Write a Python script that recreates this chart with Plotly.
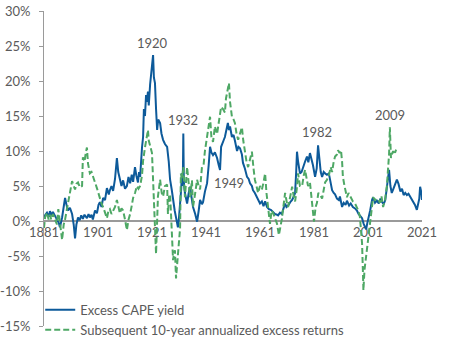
import plotly.graph_objects as go

# ---------------- data ----------------
cape_years = [
    1881.0, 1881.5, 1882.1, 1882.8, 1883.2, 1883.8, 1884.3, 1885.0, 1885.8, 1886.5,
    1886.9, 1887.7, 1888.3, 1888.8, 1889.4, 1889.9, 1890.6, 1891.4, 1892.0, 1892.5,
    1893.0, 1893.6, 1894.2, 1894.8, 1895.4, 1896.0, 1896.9, 1897.5, 1898.0, 1898.6,
    1899.1, 1899.9, 1900.6, 1901.2, 1901.7, 1902.3, 1902.9, 1903.6, 1904.3, 1905.0,
    1905.4, 1906.0, 1906.6, 1907.3, 1908.0, 1908.5, 1909.1, 1909.7, 1910.3, 1911.0,
    1911.7, 1912.3, 1912.9, 1913.5, 1914.0, 1914.7, 1915.2, 1915.8, 1916.2, 1916.6,
    1917.3, 1917.7, 1918.0, 1918.4, 1918.8, 1919.1, 1919.5, 1919.8, 1920.3, 1920.7,
    1921.0, 1921.4, 1921.7, 1922.1, 1922.5, 1922.9, 1923.3, 1924.0, 1924.5, 1925.1,
    1925.8, 1926.6, 1927.2, 1927.7, 1928.3, 1928.8, 1929.4, 1930.0, 1930.3, 1930.6,
    1931.0, 1931.4, 1931.8, 1932.1, 1932.4, 1932.6, 1932.8, 1933.2, 1934.0, 1934.6,
    1935.1, 1935.6, 1936.2, 1937.0, 1937.7, 1938.3, 1938.8, 1939.5, 1939.9, 1940.6,
    1941.4, 1942.0, 1942.5, 1943.0, 1943.6, 1944.3, 1945.1, 1945.7, 1946.2, 1946.6,
    1946.9, 1947.5, 1948.0, 1948.5, 1949.1, 1949.5, 1949.9, 1950.6, 1951.2, 1951.7,
    1952.5, 1953.0, 1953.6, 1954.3, 1954.7, 1955.4, 1956.2, 1956.8, 1957.3, 1958.0,
    1958.4, 1959.1, 1959.9, 1960.5, 1961.0, 1961.7, 1962.3, 1962.9, 1963.6, 1964.3,
    1965.0, 1965.8, 1966.5, 1967.3, 1967.7, 1968.4, 1969.1, 1969.7, 1970.3, 1970.8,
    1971.4, 1972.2, 1972.9, 1973.5, 1974.0, 1974.4, 1974.7, 1975.1, 1975.8, 1976.4,
    1976.9, 1977.7, 1978.4, 1978.9, 1979.5, 1980.0, 1980.6, 1981.4, 1982.0, 1982.5,
    1983.0, 1983.5, 1984.0, 1984.6, 1985.1, 1985.8, 1986.5, 1987.2, 1987.7, 1988.3,
    1988.8, 1989.5, 1990.2, 1990.6, 1991.4, 1992.0, 1992.7, 1993.2, 1994.0, 1994.6,
    1995.4, 1996.2, 1996.9, 1997.5, 1998.3, 1998.8, 1999.4, 2000.0, 2000.3, 2000.8,
    2001.3, 2001.8, 2002.5, 2002.9, 2003.6, 2004.3, 2005.0, 2005.6, 2006.2, 2006.8,
    2007.4, 2008.0, 2008.5, 2008.8, 2009.3, 2009.8, 2010.4, 2011.0, 2011.7, 2012.3,
    2013.0, 2013.6, 2014.2, 2014.8, 2015.4, 2016.0, 2016.6, 2017.2, 2017.7, 2018.4,
    2019.1, 2019.6, 2020.0, 2020.3, 2020.8, 2021.0,
]
cape_values = [
    0.4, 0.9, 1.2, 0.6, 1.4, 0.8, 1.3, 0.7, 0.2, -0.3,
    -0.9, 0.5, 2.0, 3.3, 2.2, 1.5, 1.9, 1.0, -0.5, -2.5,
    -0.5, 0.5, 0.1, 0.8, 0.3, 0.9, 0.4, 1.0, 0.5, 0.9,
    0.2, 1.5, 1.1, 2.3, 2.7, 2.0, 3.3, 3.0, 4.7, 3.8,
    4.4, 5.0, 4.3, 6.0, 9.0, 7.0, 6.0, 5.0, 5.8, 4.6,
    5.0, 6.3, 5.4, 6.6, 5.6, 7.7, 6.5, 5.5, 7.0, 6.3,
    10.5, 12.0, 16.0, 15.0, 18.0, 17.0, 18.5, 16.5, 19.5, 21.5,
    22.5, 23.7, 20.5, 19.7, 16.0, 13.0, 14.5, 14.0, 12.5, 11.6,
    11.0, 10.6, 8.5, 5.9, 4.5, 3.0, 1.5, 0.3, -0.3, -0.9,
    0.5, 2.0, 4.5, 6.8, 5.0, 12.5, 5.4, 4.0, 2.5, 4.0,
    4.9, 3.5, 2.0, 1.0, -0.1, 1.5, 3.0, 2.4, 2.7, 4.2,
    5.4, 8.0, 10.6, 9.8, 9.4, 9.8, 9.0, 8.0, 7.3, 10.6,
    11.0, 11.5, 12.0, 13.0, 14.0, 13.0, 13.5, 12.0, 12.3, 11.5,
    10.0, 10.6, 10.4, 9.5, 8.3, 7.5, 6.3, 6.0, 5.4, 5.0,
    4.4, 4.0, 3.4, 3.0, 2.5, 2.8, 2.1, 2.8, 2.0, 1.7,
    1.6, 1.3, 1.0, 0.9, 0.8, 1.2, 1.0, 1.8, 2.5, 2.0,
    2.2, 2.7, 3.0, 3.5, 4.0, 7.0, 9.9, 8.5, 6.8, 7.0,
    7.7, 8.5, 9.2, 8.4, 9.7, 9.0, 8.0, 6.3, 7.5, 10.8,
    9.0, 7.0, 6.3, 7.0, 6.8, 6.6, 6.8, 5.0, 4.4, 4.0,
    3.8, 3.2, 3.0, 3.5, 2.0, 2.6, 2.3, 2.9, 2.2, 2.5,
    2.0, 1.8, 1.5, 1.0, 0.6, 0.4, -0.4, -1.0, -1.2, -0.2,
    0.6, 1.5, 3.0, 3.4, 2.6, 2.9, 2.5, 3.2, 2.7, 2.4,
    3.0, 4.9, 6.0, 7.3, 5.0, 4.0, 4.6, 5.2, 5.9, 5.3,
    4.2, 4.6, 3.7, 4.0, 3.7, 3.9, 3.5, 3.3, 2.9, 2.3,
    1.6, 2.6, 3.2, 4.9, 4.0, 3.0,
]

ret_years = [
    1881.0, 1881.4, 1882.1, 1882.7, 1883.2, 1883.7, 1884.3, 1885.0, 1885.8, 1886.3,
    1886.9, 1887.4, 1887.7, 1888.3, 1888.8, 1889.4, 1889.9, 1890.5, 1891.4, 1892.0,
    1892.5, 1893.0, 1893.6, 1894.3, 1895.1, 1895.4, 1896.0, 1896.5, 1896.9, 1897.3,
    1898.0, 1898.6, 1899.1, 1899.9, 1900.6, 1901.2, 1901.7, 1902.3, 1902.9, 1903.6,
    1904.3, 1904.9, 1905.4, 1906.0, 1906.6, 1907.3, 1908.0, 1908.6, 1909.1, 1909.7,
    1910.3, 1911.0, 1911.7, 1912.3, 1912.9, 1913.5, 1914.0, 1914.7, 1915.4, 1916.0,
    1916.6, 1917.3, 1917.7, 1918.4, 1919.1, 1919.5, 1919.8, 1920.3, 1921.0, 1921.4,
    1921.8, 1922.2, 1922.5, 1922.9, 1923.2, 1924.0, 1924.6, 1925.1, 1925.8, 1926.6,
    1926.9, 1927.3, 1927.7, 1928.1, 1928.4, 1928.8, 1929.2, 1929.5, 1929.9, 1930.3,
    1930.6, 1931.0, 1931.4, 1931.7, 1932.1, 1932.6, 1933.2, 1934.0, 1934.6, 1935.1,
    1935.8, 1936.2, 1937.0, 1937.7, 1938.3, 1938.8, 1939.5, 1940.1, 1940.6, 1941.2,
    1941.7, 1942.5, 1943.0, 1943.6, 1944.3, 1945.1, 1945.7, 1946.2, 1946.6, 1947.3,
    1948.0, 1948.4, 1948.8, 1949.1, 1949.5, 1949.9, 1950.6, 1951.2, 1951.7, 1952.3,
    1952.9, 1953.6, 1954.3, 1954.8, 1955.4, 1956.0, 1956.6, 1957.3, 1958.0, 1958.6,
    1959.1, 1959.7, 1960.3, 1961.0, 1961.7, 1962.3, 1962.9, 1963.4, 1964.0, 1964.7,
    1965.3, 1965.8, 1966.5, 1967.3, 1968.0, 1968.6, 1969.1, 1969.8, 1970.3, 1971.0,
    1971.4, 1972.2, 1972.9, 1973.5, 1974.0, 1974.6, 1975.1, 1975.8, 1976.6, 1977.2,
    1977.7, 1978.3, 1978.8, 1979.5, 1980.3, 1981.0, 1981.6, 1982.1, 1982.6, 1983.2,
    1984.0, 1984.6, 1985.1, 1985.8, 1986.5, 1987.2, 1987.7, 1988.3, 1988.8, 1989.5,
    1989.9, 1990.5, 1991.0, 1991.4, 1991.7, 1992.3, 1993.2, 1993.8, 1994.3, 1995.0,
    1995.4, 1996.2, 1996.9, 1997.5, 1998.0, 1998.5, 1998.8, 1999.1, 1999.3, 1999.7,
    2000.3, 2000.6, 2001.0, 2001.7, 2002.2, 2002.5, 2002.9, 2003.6, 2004.3, 2005.0,
    2005.4, 2006.0, 2006.6, 2007.3, 2008.0, 2008.4, 2008.8, 2009.1, 2009.5, 2009.9,
    2010.3, 2010.8, 2011.4,
]
ret_values = [
    -1.0, 0.5, 1.2, 0.2, 0.9, 0.2, 1.0, 0.3, -0.5, 1.7,
    0.0, -1.5, -2.7, -0.5, 0.2, 1.5, 2.6, 4.0, 5.7, 5.0,
    4.5, 5.3, 5.5, 4.8, 5.0, 9.1, 8.5, 9.8, 10.5, 8.2,
    6.8, 7.0, 6.5, 5.5, 4.7, 3.8, 3.0, 2.5, 2.0, 1.2,
    0.4, 1.5, 1.7, 1.0, 1.4, 2.0, 3.0, 2.0, 1.1, 1.8,
    1.5, 0.2, -1.3, 0.2, 1.0, 2.2, 3.3, 4.0, 5.0, 4.6,
    5.0, 6.5, 8.6, 10.5, 12.0, 13.0, 11.5, 10.7, 9.7, 5.9,
    1.0, -2.5, -4.7, 0.0, 3.5, 5.9, 4.0, 3.5, 5.0, 5.2,
    1.0, 3.5, 3.8, 0.5, -2.7, -5.6, -4.5, -4.2, -8.2, -6.0,
    -4.7, -2.5, -1.0, 6.8, 6.0, 7.7, 3.4, 7.7, 5.5, 3.4,
    5.8, 2.0, 4.0, 5.9, 5.0, 4.5, 7.7, 8.0, 10.0, 11.5,
    13.4, 14.9, 12.0, 11.3, 13.5, 12.4, 14.0, 15.0, 16.3, 16.0,
    15.5, 17.5, 18.2, 19.0, 19.7, 17.0, 14.9, 14.5, 14.0, 12.5,
    11.6, 12.5, 13.4, 11.5, 9.6, 8.5, 7.7, 8.8, 9.9, 7.5,
    5.9, 5.0, 4.0, 5.0, 4.5, 5.5, 6.8, 4.0, 1.5, -0.4,
    1.5, 1.2, 0.5, -0.4, -2.0, -1.0, 0.3, 2.5, 4.0, 2.5,
    2.0, 3.5, 4.9, 3.5, 2.8, 4.5, 6.8, 5.0, 5.0, 6.5,
    7.3, 6.0, 5.0, 5.5, 2.7, -0.1, 2.0, 2.6, 4.0, 3.8,
    3.2, 4.5, 5.5, 5.9, 6.5, 7.7, 7.0, 8.5, 9.2, 9.5,
    10.1, 9.7, 10.1, 8.5, 6.3, 5.0, 3.4, 4.0, 3.6, 3.0,
    2.8, 2.5, 2.0, 1.4, 0.6, -1.5, -3.2, -7.0, -9.9, -7.0,
    -5.1, -4.5, -2.8, -0.9, 0.8, 2.2, 3.4, 3.0, 3.2, 3.0,
    2.6, 3.5, 2.0, 3.0, 5.0, 7.3, 9.5, 13.4, 9.0, 9.6,
    10.0, 9.5, 10.2,
]

series_names = ["Excess CAPE yield", "Subsequent 10-year annualized excess returns"]

label_texts = ["1920", "1932", "1949", "1982", "2009"]
label_years = [1921.0, 1932.6, 1949.5, 1982.1, 2009.1]
label_values = [25.4, 14.4, 5.4, 12.7, 15.1]

x_ticks = [1881, 1901, 1921, 1941, 1961, 1981, 2001, 2021]
y_ticks = [-15, -10, -5, 0, 5, 10, 15, 20, 25, 30]

# ---------------- figure ----------------
BLUE = "#0d5a9a"
GREEN = "#4ea865"
TXT = "#5a5a5a"
AXC = "#9a9a9a"
FONT = "Lato"

fig = go.Figure()
fig.add_trace(go.Scatter(
    x=cape_years, y=cape_values, mode="lines", name=series_names[0],
    line=dict(color=BLUE, width=2),
))
fig.add_trace(go.Scatter(
    x=ret_years, y=ret_values, mode="lines", name=series_names[1],
    line=dict(color=GREEN, width=2, dash="6px,3px"),
))

for t, xv, yv in zip(label_texts, label_years, label_values):
    fig.add_annotation(x=xv, y=yv, text=t, showarrow=False,
                       font=dict(family=FONT, size=13, color=TXT))

ymin, ymax = y_ticks[0], y_ticks[-1]
fig.update_layout(
    width=449, height=343,
    margin=dict(l=44, r=27, t=11, b=17, autoexpand=False),
    paper_bgcolor="white", plot_bgcolor="white",
    font=dict(family=FONT, size=13, color=TXT),
    showlegend=True,
    legend=dict(x=-0.01, y=-0.06, xanchor="left", yanchor="bottom",
                bgcolor="rgba(0,0,0,0)", font=dict(family=FONT, size=13, color=TXT),
                itemwidth=30, tracegroupgap=0),
    xaxis=dict(
        range=[x_ticks[0], x_ticks[-1]], tickvals=x_ticks,
        ticktext=[str(v) for v in x_ticks],
        showgrid=False, zeroline=False, showline=True, linecolor=AXC, linewidth=1.5,
        ticks="", anchor="free", position=(0 - ymin) / (ymax - ymin),
        layer="below traces", tickfont=dict(color=TXT, size=13), automargin=False,
    ),
    yaxis=dict(
        range=[ymin, ymax], tickvals=y_ticks,
        ticktext=[f"{v}%" for v in y_ticks],
        showgrid=False, zeroline=False, showline=True, linecolor=AXC, linewidth=1,
        ticks="outside", ticklen=4, tickcolor=AXC, tickfont=dict(color=TXT, size=13),
        ticklabelstandoff=6, automargin=False,
    ),
)

fig.write_html("out.html")
